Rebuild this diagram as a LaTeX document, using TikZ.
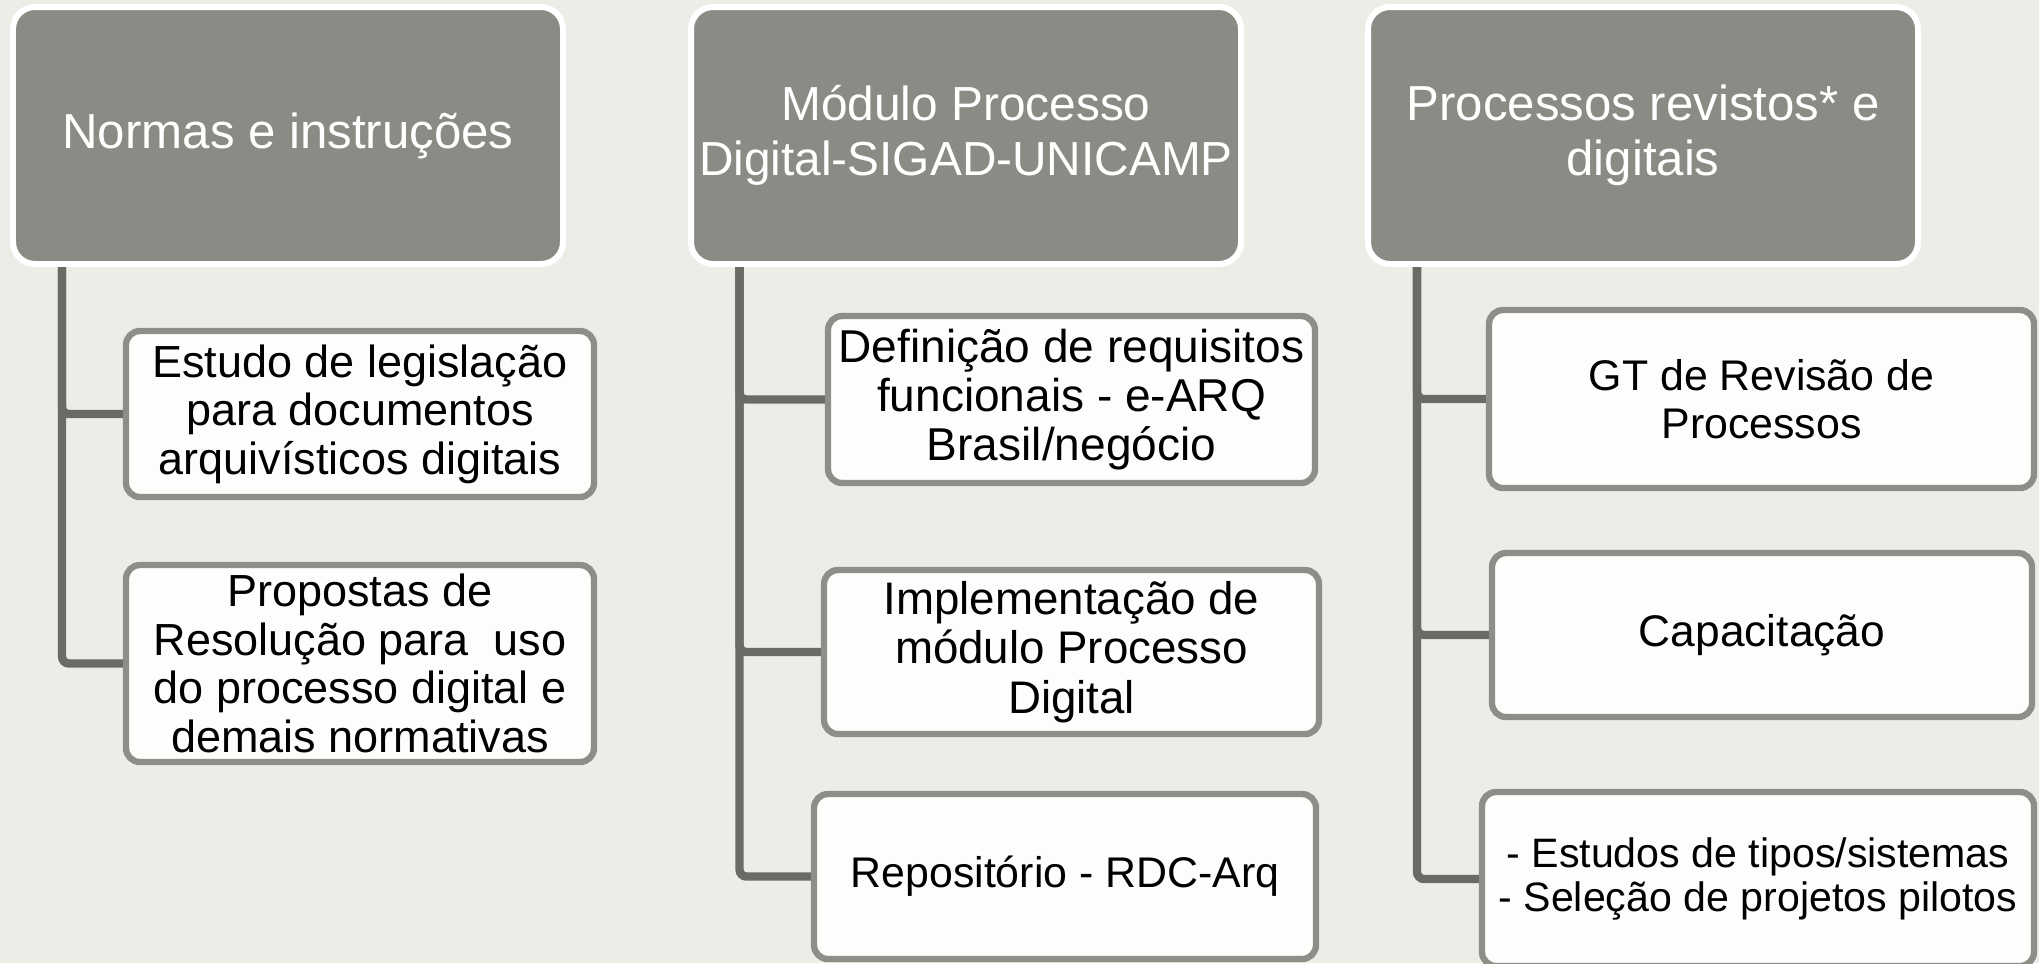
\documentclass[tikz,border=0pt]{standalone}
\usepackage{fontspec}
\setmainfont{Liberation Sans}

\definecolor{bgbeige}{HTML}{EEECE6}
\definecolor{headgray}{HTML}{8B8B85}
\definecolor{rimgray}{HTML}{8E8E88}
\definecolor{linkgray}{HTML}{6B6B66}
\definecolor{boxwhite}{HTML}{FDFDFC}

\tikzset{
  headbox/.style={draw=white, line width=1.7pt, fill=headgray, rounded corners=0.22cm,
    text=white, align=center, inner sep=2pt, minimum width=5.5cm, minimum height=2.57cm,
    font=\fontsize{14}{15.6}\selectfont},
  childbox/.style={draw=rimgray, line width=1.8pt, fill=boxwhite, rounded corners=0.14cm,
    align=center, inner sep=2pt, font=\fontsize{12.8}{13.8}\selectfont},
  link/.style={draw=linkgray, line width=2.4pt, rounded corners=2pt}
}

\begin{document}
\begin{tikzpicture}
\useasboundingbox (0,0) rectangle (20.39,-9.63);
\fill[bgbeige] (0,0) rectangle (20.39,-9.63);

% heads
\node[headbox] at (2.88,-1.355) (h1) {Normas e instruções};
\node[headbox, font=\fontsize{13.6}{15.6}\selectfont] at (9.66,-1.355) (h2)
  {Módulo Processo\\Digital-SIGAD-UNICAMP};
\node[headbox] at (16.43,-1.355) (h3) {Processos revistos* e\\digitais};

% trunks
\coordinate (r1) at (0.62,0);
\coordinate (r2) at (7.395,0);
\coordinate (r3) at (14.17,0);

% first column
\node[childbox, minimum width=4.68cm, minimum height=1.66cm] at (3.60,-4.14) (a)
  {Estudo de legislação\\para documentos\\arquivísticos digitais};
\node[childbox, minimum width=4.68cm, minimum height=1.97cm] at (3.60,-6.635) (b)
  {Propostas de\\Resolução para\ \ uso\\do processo digital e\\demais normativas};

% second column
\node[childbox, minimum width=4.87cm, minimum height=1.67cm,
  font=\fontsize{13.1}{14}\selectfont] at (10.715,-3.995) (c)
  {Definição de requisitos\\funcionais - e-ARQ\\Brasil/negócio};
\node[childbox, minimum width=4.95cm, minimum height=1.64cm,
  font=\fontsize{13}{14}\selectfont] at (10.715,-6.52) (d)
  {Implementação de\\módulo Processo\\Digital};
\node[childbox, minimum width=5.02cm, minimum height=1.65cm,
  font=\fontsize{12.2}{13.8}\selectfont] at (10.65,-8.765) (e)
  {Repositório - RDC-Arq};

% third column
\node[childbox, minimum width=5.45cm, minimum height=1.78cm,
  font=\fontsize{12.2}{13.8}\selectfont] at (17.615,-3.99) (f)
  {GT de Revisão de\\Processos};
\node[childbox, minimum width=5.40cm, minimum height=1.64cm,
  font=\fontsize{12.6}{13.8}\selectfont] at (17.62,-6.35) (g)
  {Capacitação};
\node[childbox, minimum width=5.52cm, minimum height=1.74cm,
  font=\fontsize{11.7}{12.6}\selectfont] at (17.58,-8.79) (hh)
  {- Estudos de tipos/sistemas\\- Seleção de projetos pilotos};

\foreach \c in {a,b} \draw[link] (h1.south -| r1) |- (\c.west);
\foreach \c in {c,d,e} \draw[link] (h2.south -| r2) |- (\c.west);
\foreach \c in {f,g,hh} \draw[link] (h3.south -| r3) |- (\c.west);

\end{tikzpicture}
\end{document}
